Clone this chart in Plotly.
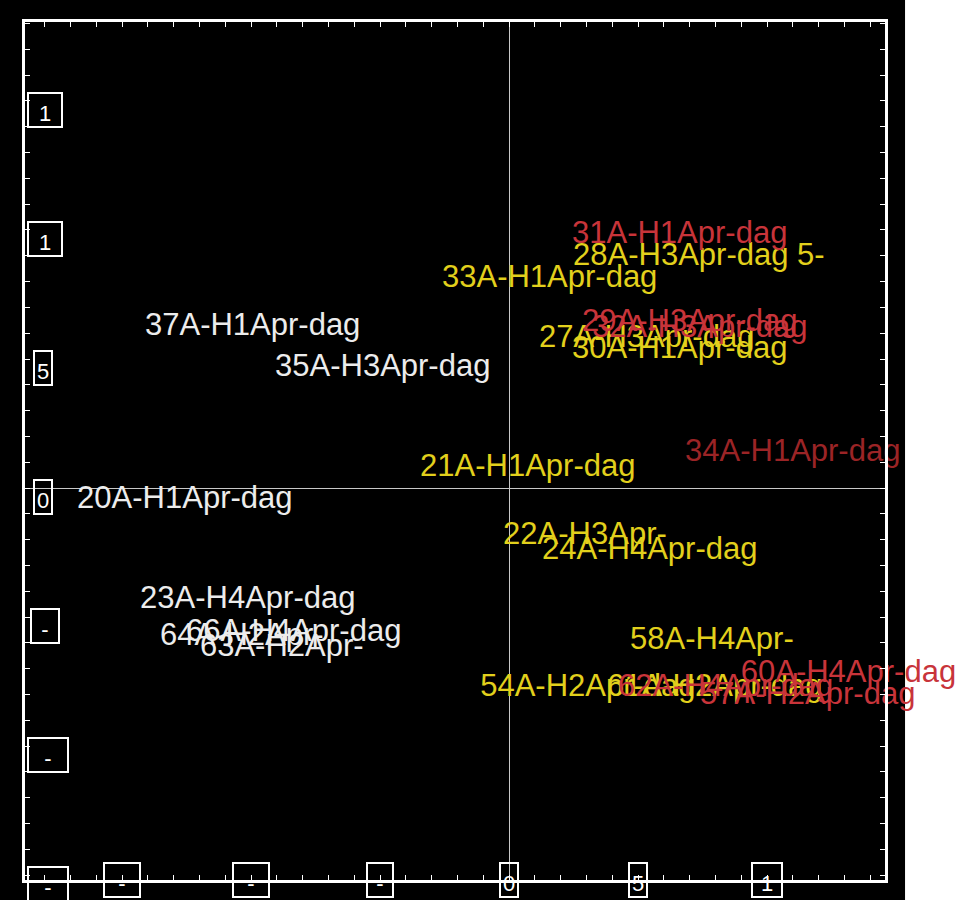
import plotly.graph_objects as go

# ---- data ----
white_labels = ["37A-H1Apr-dag", "35A-H3Apr-dag", "20A-H1Apr-dag", "23A-H4Apr-dag",
                "64A-H2Apr-", "66A-H4Apr-dag", "63A-H2Apr-"]
white_x = [-1.411, -0.907, -1.674, -1.430, -1.353, -1.252, -1.198]
white_y = [0.624, 0.465, -0.047, -0.434, -0.578, -0.562, -0.620]

yellow_labels = ["28A-H3Apr-dag 5-", "33A-H1Apr-dag", "27A-H3Apr-dag", "30A-H1Apr-dag",
                 "21A-H1Apr-dag", "22A-H3Apr-", "24A-H4Apr-dag", "58A-H4Apr-",
                 "54A-H2Apr-dag", "61A-H2Apr-dag"]
yellow_x = [0.248, -0.260, 0.116, 0.244, -0.345, -0.023, 0.128, 0.469, -0.112, 0.380]
yellow_y = [0.895, 0.810, 0.578, 0.535, 0.078, -0.186, -0.244, -0.593, -0.775, -0.775]

red_labels = ["31A-H1Apr-dag", "29A-H3Apr-dag", "32A-H3Apr-dag", "60A-H4Apr-dag",
              "62A-H4Apr-dag", "57A-H2Apr-dag"]
red_x = [0.244, 0.283, 0.322, 0.898, 0.422, 0.740]
red_y = [0.981, 0.640, 0.616, -0.721, -0.775, -0.806]

darkred_labels = ["34A-H1Apr-dag"]
darkred_x = [0.682]
darkred_y = [0.136]

x_tick_vals = [-1.5, -1.0, -0.5, 0.0, 0.5, 1.0]
x_tick_text = ["-", "-", "-", "0", "5", "1"]
y_tick_vals = [1.5, 1.0, 0.5, 0.0, -0.5, -1.0, -1.5]
y_tick_text = ["1", "1", "5", "0", "-", "-", "-"]

X_RANGE = [-1.876, 1.457]
Y_RANGE = [-1.519, 1.806]

# box widths of the tick-label frames (style only)
x_box_w = [34, 34, 24, 16, 16, 28]
y_box_w = [32, 32, 16, 16, 26, 38, 38]
y_box_shift = [2, 2, 8, 8, 5, 2, 2]

FONT = "Liberation Sans, Arial, sans-serif"
fig = go.Figure()

groups = [
    (white_labels, white_x, white_y, "rgb(236,236,236)"),
    (yellow_labels, yellow_x, yellow_y, "rgb(226,208,28)"),
    (red_labels, red_x, red_y, "rgb(200,52,58)"),
    (darkred_labels, darkred_x, darkred_y, "rgb(155,36,38)"),
]
for labels, xs, ys, col in groups:
    fig.add_trace(go.Scatter(
        x=xs, y=ys, text=labels, mode="text", textposition="middle right",
        textfont=dict(family=FONT, size=31, color=col),
        cliponaxis=False, hoverinfo="skip", showlegend=False))

annotations = []
for v, t, w in zip(x_tick_vals, x_tick_text, x_box_w):
    annotations.append(dict(
        x=v, xref="x", y=0, yref="paper", yanchor="middle", xanchor="center",
        text=t, showarrow=False, width=w, height=32,
        valign="bottom", bordercolor="white", borderwidth=2, borderpad=0,
        font=dict(family=FONT, size=22, color="white")))
for v, t, w, s in zip(y_tick_vals, y_tick_text, y_box_w, y_box_shift):
    annotations.append(dict(
        x=0, xref="paper", xanchor="left", xshift=s, y=v, yref="y", yanchor="middle",
        yshift=-9, text=t, showarrow=False, width=w, height=32,
        valign="bottom", bordercolor="white", borderwidth=2, borderpad=0,
        font=dict(family=FONT, size=22, color="white")))

axis_common = dict(
    showgrid=False, zeroline=True, zerolinecolor="rgb(200,200,200)", zerolinewidth=1,
    showline=True, linecolor="white", linewidth=3, mirror="ticks",
    ticks="inside", ticklen=5, tickwidth=1, tickcolor="white", dtick=0.1, tick0=0,
    showticklabels=False)

fig.update_layout(
    width=956, height=900,
    margin=dict(l=25, r=71, t=22, b=20),
    paper_bgcolor="black", plot_bgcolor="black",
    xaxis=dict(range=X_RANGE, **axis_common),
    yaxis=dict(range=Y_RANGE, **axis_common),
    annotations=annotations,
    shapes=[dict(type="rect", xref="paper", yref="paper", x0=1.0233, x1=1.2,
                 y0=-0.2, y1=1.2, fillcolor="white", line=dict(width=0), layer="below")],
)

fig.write_html("out.html")
